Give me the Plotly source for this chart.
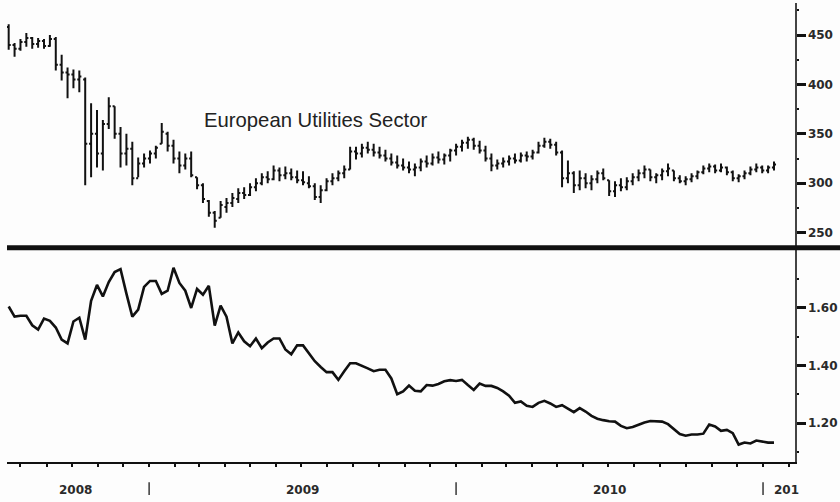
import pandas as pd
import plotly.graph_objects as go

# ---------------- data ----------------
first_week = "2008-07-18"
n_weeks = 131

util_high = [461, 442, 446, 452, 448, 447, 446, 450, 448, 430, 417, 415, 414, 407, 381, 374, 364, 387, 378, 357,
             350, 342, 326, 330, 333, 338, 361, 352, 344, 332, 330, 332, 306, 300, 283, 272, 282, 285, 290, 295,
             296, 300, 305, 310, 312, 318, 316, 317, 315, 313, 312, 307, 300, 298, 305, 310, 313, 318, 337, 337,
             340, 342, 340, 337, 334, 330, 328, 325, 322, 320, 325, 328, 330, 332, 330, 335, 340, 344, 347, 346,
             343, 338, 330, 324, 326, 328, 330, 331, 332, 334, 342, 346, 345, 342, 333, 323, 312, 313, 310, 308,
             313, 315, 303, 302, 305, 306, 310, 314, 318, 314, 310, 315, 320, 313, 308, 307, 310, 313, 318, 320,
             319, 320, 317, 313, 309, 313, 317, 320, 318, 318, 322]
util_low = [435, 428, 434, 438, 436, 437, 436, 438, 414, 404, 386, 396, 392, 298, 306, 316, 313, 355, 345, 316,
            318, 298, 306, 316, 320, 325, 340, 332, 320, 310, 314, 306, 294, 280, 266, 255, 265, 270, 276, 280,
            284, 287, 292, 298, 300, 303, 302, 304, 303, 300, 298, 295, 283, 280, 292, 298, 302, 305, 314, 324,
            326, 330, 327, 325, 322, 318, 315, 313, 310, 307, 312, 316, 318, 320, 319, 322, 328, 332, 335, 334,
            330, 322, 312, 314, 316, 318, 320, 321, 322, 324, 330, 336, 335, 328, 296, 300, 290, 293, 295, 293,
            300, 303, 287, 286, 292, 293, 298, 302, 305, 302, 300, 303, 307, 302, 300, 298, 301, 304, 309, 311,
            310, 311, 308, 302, 301, 304, 308, 311, 310, 310, 313]
util_open = [458, 440, 436, 443, 447, 441, 444, 439, 446, 420, 412, 410, 405, 405, 340, 350, 330, 360, 378, 350,
             330, 335, 305, 320, 325, 330, 340, 350, 338, 325, 318, 325, 306, 298, 282, 270, 265, 276, 280, 284,
             290, 288, 296, 300, 306, 304, 313, 308, 310, 306, 303, 300, 297, 286, 293, 302, 305, 310, 314, 332,
             330, 336, 334, 331, 328, 325, 321, 318, 316, 314, 316, 322, 320, 326, 324, 328, 333, 337, 341, 344,
             338, 333, 325, 318, 320, 322, 325, 323, 328, 327, 331, 338, 342, 339, 331, 305, 310, 298, 305, 300,
             304, 310, 303, 292, 298, 296, 302, 306, 310, 314, 306, 308, 312, 313, 305, 302, 304, 307, 311, 315,
             317, 313, 316, 311, 305, 307, 310, 314, 316, 313, 316]
util_close = [440, 436, 443, 447, 441, 444, 439, 446, 420, 412, 410, 405, 408, 340, 350, 330, 360, 378, 350, 330,
              335, 305, 320, 325, 330, 336, 352, 338, 325, 318, 325, 308, 298, 284, 270, 262, 278, 280, 285, 290,
              288, 296, 300, 306, 304, 313, 308, 310, 306, 303, 301, 297, 286, 293, 302, 305, 310, 314, 332, 330,
              336, 334, 331, 328, 325, 321, 318, 316, 314, 316, 322, 320, 326, 324, 328, 333, 337, 341, 344, 338,
              333, 325, 318, 320, 322, 325, 323, 328, 327, 331, 338, 342, 339, 331, 305, 310, 298, 305, 300, 304,
              310, 305, 292, 298, 296, 302, 306, 310, 314, 306, 308, 312, 315, 305, 302, 304, 307, 311, 315, 317,
              313, 316, 311, 305, 307, 310, 314, 316, 313, 316, 319]

relative_line = [1.605, 1.570, 1.573, 1.573, 1.540, 1.525, 1.563, 1.555, 1.532, 1.490, 1.477, 1.553, 1.566, 1.490,
                 1.625, 1.680, 1.640, 1.690, 1.725, 1.735, 1.650, 1.570, 1.594, 1.673, 1.694, 1.694, 1.649, 1.660,
                 1.740, 1.687, 1.660, 1.600, 1.666, 1.646, 1.677, 1.539, 1.608, 1.570, 1.477, 1.515, 1.484, 1.467,
                 1.494, 1.460, 1.480, 1.494, 1.494, 1.456, 1.439, 1.470, 1.470, 1.442, 1.415, 1.395, 1.377, 1.377,
                 1.350, 1.380, 1.408, 1.408, 1.400, 1.390, 1.380, 1.385, 1.385, 1.355, 1.300, 1.310, 1.330, 1.312,
                 1.310, 1.332, 1.330, 1.336, 1.345, 1.349, 1.346, 1.350, 1.332, 1.315, 1.337, 1.329, 1.329, 1.322,
                 1.310, 1.295, 1.270, 1.275, 1.260, 1.256, 1.270, 1.277, 1.268, 1.256, 1.262, 1.250, 1.238, 1.252,
                 1.240, 1.225, 1.215, 1.210, 1.206, 1.205, 1.190, 1.182, 1.186, 1.194, 1.202, 1.207, 1.205, 1.205,
                 1.196, 1.180, 1.162, 1.156, 1.160, 1.160, 1.163, 1.195, 1.188, 1.173, 1.176, 1.165, 1.125, 1.132,
                 1.129, 1.139, 1.136, 1.132, 1.132]

year_starts = ["2009-01-01", "2010-01-01", "2011-01-01"]
year_labels = ["2008", "2009", "2010", "201"]
year_label_pos = ["2008-10-06", "2009-07-02", "2010-07-02", "2011-01-12"]
title_text = "European Utilities Sector"

dates = pd.date_range(first_week, periods=n_weeks, freq="7D")

# ---------------- figure ----------------
INK = "#111111"
TXT = "#2a2a2a"
tick_font = dict(family="DejaVu Sans", size=12, color=TXT, weight="bold")

fig = go.Figure()
fig.add_trace(go.Ohlc(
    x=dates, open=util_open, high=util_high, low=util_low, close=util_close,
    xaxis="x2", yaxis="y2",
    increasing=dict(line=dict(color=INK, width=2)),
    decreasing=dict(line=dict(color=INK, width=2)),
    tickwidth=0.35, showlegend=False, hoverinfo="skip",
))
fig.add_trace(go.Scatter(
    x=dates, y=relative_line, mode="lines",
    line=dict(color=INK, width=2.6), xaxis="x", yaxis="y",
    showlegend=False, hoverinfo="skip",
))

split = 0.467
x_range = ["2008-07-16", "2011-02-08"]

fig.update_layout(
    width=840, height=502,
    margin=dict(l=7, r=45, t=3, b=40, autoexpand=False),
    paper_bgcolor="#fdfdfd", plot_bgcolor="#fdfdfd",
    xaxis=dict(domain=[0, 1], anchor="y", type="date", range=x_range,
               showline=True, linecolor=INK, linewidth=1.5,
               ticks="outside", ticklen=3, tickwidth=2, tickcolor=INK,
               tick0="2008-01-01", dtick="M1", showticklabels=False,
               showgrid=False, zeroline=False, fixedrange=True,
               rangeslider=dict(visible=False)),
    xaxis2=dict(domain=[0, 1], anchor="y2", type="date", range=x_range, matches="x",
                showline=False, ticks="", showticklabels=False, showgrid=False,
                zeroline=False, rangeslider=dict(visible=False)),
    yaxis=dict(domain=[0, split], anchor="x", side="right", range=[1.0645, 1.8097],
               showline=True, linecolor="#444", linewidth=1.5,
               ticks="outside", ticklen=9, tickwidth=3, tickcolor=INK,
               tickvals=[1.2, 1.4, 1.6], tickformat=".2f",
               minor=dict(tickvals=[1.1, 1.3, 1.5, 1.7], ticks="outside", ticklen=2, tickwidth=2, tickcolor=INK),
               tickfont=tick_font, showgrid=False, zeroline=False, automargin=False),
    yaxis2=dict(domain=[split, 1], anchor="x2", side="right", range=[234.8, 482.4],
                showline=True, linecolor="#444", linewidth=1.5,
                ticks="outside", ticklen=9, tickwidth=3, tickcolor=INK,
                tickvals=[250, 300, 350, 400, 450],
                minor=dict(tickvals=[275, 325, 375, 425, 475], ticks="outside", ticklen=2, tickwidth=2, tickcolor=INK),
                tickfont=tick_font, showgrid=False, zeroline=False, automargin=False),
)

shapes = [dict(type="line", xref="paper", yref="paper", x0=0, x1=1.06, y0=split, y1=split,
               line=dict(color=INK, width=5))]
for d in year_starts:
    shapes.append(dict(type="line", xref="x", yref="paper", x0=d, x1=d, y0=-0.044, y1=-0.072,
                       line=dict(color="#444", width=1.6)))
fig.update_layout(shapes=shapes)

annotations = []
for lbl, pos in zip(year_labels, year_label_pos):
    annotations.append(dict(x=pos, y=-0.061, xref="x", yref="paper", text=lbl, showarrow=False,
                            xanchor="left" if lbl == "201" else "center", yanchor="middle",
                            font=tick_font))
annotations.append(dict(x=0.2475, y=0.745, xref="paper", yref="paper", text=title_text,
                        showarrow=False, xanchor="left", yanchor="middle",
                        font=dict(family="Liberation Sans", size=20.3, color="#222")))
fig.update_layout(annotations=annotations)

fig.write_html(
    "out.html",
    config={"displayModeBar": False, "staticPlot": True},
    post_script="document.body.style.margin='0';document.body.style.overflow='hidden';",
)
